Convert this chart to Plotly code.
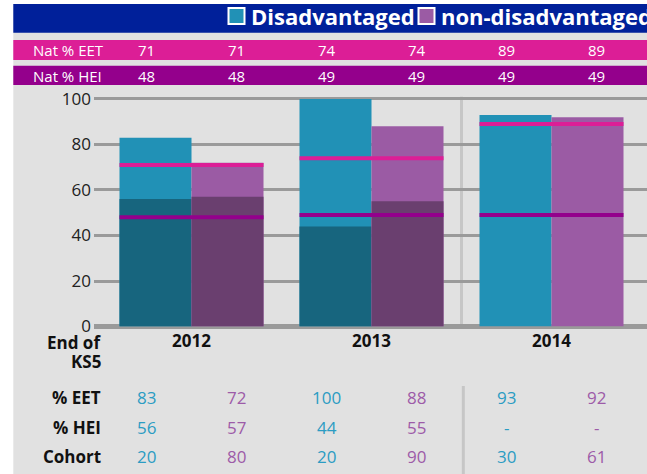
import plotly.graph_objects as go

# ---------------- data ----------------
years = ["2012", "2013", "2014"]
eet_dis = [83, 100, 93]
eet_non = [72, 88, 92]
hei_dis = [56, 44, None]
hei_non = [57, 55, None]
cohort_dis = [20, 20, 30]
cohort_non = [80, 90, 61]
nat_eet = [71, 74, 89]
nat_hei = [48, 49, 49]
series_names = ["Disadvantaged", "non-disadvantaged"]
y_ticks = [0, 20, 40, 60, 80, 100]

# ---------------- styles ----------------
W, H = 647, 474
C_DIS = "#2191b6"
C_DIS_D = "#17657e"
C_NON = "#9b5ba4"
C_NON_D = "#6a3f6f"
C_EET = "#dc1e96"
C_HEI = "#94008c"
C_BLUE = "#00209a"
C_BG = "#e1e1e1"
T_DIS = "#2b9cc3"
T_NON = "#9d5ba8"
FONT = "Open Sans"
BW = 0.4


def px(x):
    return x / W


def py(y):
    return 1 - y / H


xs = list(range(len(years)))

fig = go.Figure()
fig.add_trace(go.Bar(x=xs, y=eet_dis, offset=-BW, width=BW, marker=dict(color=C_DIS, line=dict(width=0)),
                     name=series_names[0], showlegend=False))
fig.add_trace(go.Bar(x=xs, y=hei_dis, offset=-BW, width=BW, marker=dict(color=C_DIS_D, line=dict(width=0)),
                     showlegend=False))
fig.add_trace(go.Bar(x=xs, y=eet_non, offset=0, width=BW, marker=dict(color=C_NON, line=dict(width=0)),
                     name=series_names[1], showlegend=False))
fig.add_trace(go.Bar(x=xs, y=hei_non, offset=0, width=BW, marker=dict(color=C_NON_D, line=dict(width=0)),
                     showlegend=False))


def hlines(vals):
    lx, ly = [], []
    for i, v in zip(xs, vals):
        lx += [i - BW, i + BW, None]
        ly += [v, v, None]
    return lx, ly


for vals, col in ((nat_eet, C_EET), (nat_hei, C_HEI)):
    lx, ly = hlines(vals)
    fig.add_trace(go.Scatter(x=lx, y=ly, mode="lines", line=dict(color=col, width=4),
                             showlegend=False, hoverinfo="skip"))

shapes = []
# backdrop
shapes.append(dict(type="rect", xref="paper", yref="paper", x0=px(13.3), x1=1, y0=0, y1=py(4),
                   fillcolor=C_BG, line=dict(width=0), layer="below"))
# header bands
shapes.append(dict(type="rect", xref="paper", yref="paper", x0=px(13.3), x1=1, y0=py(32.7), y1=py(4),
                   fillcolor=C_BLUE, line=dict(width=0), layer="below"))
shapes.append(dict(type="rect", xref="paper", yref="paper", x0=px(13.3), x1=1, y0=py(60), y1=py(40),
                   fillcolor=C_EET, line=dict(width=0), layer="below"))
shapes.append(dict(type="rect", xref="paper", yref="paper", x0=px(13.3), x1=1, y0=py(85), y1=py(65.7),
                   fillcolor=C_HEI, line=dict(width=0), layer="below"))
# legend squares
for x0, col in ((228.5, C_DIS), (418.5, C_NON)):
    shapes.append(dict(type="rect", xref="paper", yref="paper", x0=px(x0), x1=px(x0 + 16), y0=py(24), y1=py(8),
                       fillcolor=col, line=dict(color="white", width=2)))
# separator between 2013 and 2014
sep = (xs[1] + xs[2]) / 2
shapes.append(dict(type="line", xref="x", yref="y domain", x0=sep, x1=sep, y0=0, y1=1,
                   line=dict(color="#c6c6c6", width=3), layer="below"))
shapes.append(dict(type="line", xref="x", yref="paper", x0=sep + 0.01, x1=sep + 0.01, y0=0, y1=py(386),
                   line=dict(color="#c6c6c6", width=3)))

ann = []
# legend text
ann.append(dict(xref="paper", yref="paper", x=px(249), y=py(16), xanchor="left", yanchor="middle",
                text="<b>" + series_names[0] + "</b>", showarrow=False,
                font=dict(family=FONT, size=22, color="white")))
ann.append(dict(xref="paper", yref="paper", x=px(439), y=py(16), xanchor="left", yanchor="middle",
                text="<b>" + series_names[1] + "</b>", showarrow=False,
                font=dict(family=FONT, size=22, color="white")))
# national rows
for label, vals, yy in (("Nat % EET", nat_eet, 50), ("Nat % HEI", nat_hei, 75.5)):
    ann.append(dict(xref="paper", yref="paper", x=px(31), y=py(yy), xanchor="left", yanchor="middle",
                    text=label, showarrow=False, font=dict(family=FONT, size=15, color="white")))
    for i, v in zip(xs, vals):
        for dx in (-0.25, 0.25):
            ann.append(dict(xref="x", yref="paper", x=i + dx, y=py(yy), xanchor="center", yanchor="middle",
                            text=str(v), showarrow=False, font=dict(family=FONT, size=15, color="white")))
# table
for label, yy in (("End of", 342.5), ("KS5", 361), ("% EET", 397), ("% HEI", 427), ("Cohort", 456)):
    ann.append(dict(xref="paper", yref="paper", x=px(102.5), y=py(yy), xanchor="right", yanchor="middle",
                    text="<b>" + label + "</b>", showarrow=False, font=dict(family=FONT, size=17, color="#111")))


def fmt(v):
    return "-" if v is None else str(v)


for dvals, nvals, yy in ((eet_dis, eet_non, 397), (hei_dis, hei_non, 427), (cohort_dis, cohort_non, 456)):
    for i in xs:
        ann.append(dict(xref="x", yref="paper", x=i - 0.25, y=py(yy), xanchor="center", yanchor="middle",
                        text=fmt(dvals[i]), showarrow=False, font=dict(family=FONT, size=17, color=T_DIS)))
        ann.append(dict(xref="x", yref="paper", x=i + 0.25, y=py(yy), xanchor="center", yanchor="middle",
                        text=fmt(nvals[i]), showarrow=False, font=dict(family=FONT, size=17, color=T_NON)))

fig.update_layout(
    width=W, height=H, autosize=False,
    margin=dict(l=0, r=0, t=0, b=0, pad=0, autoexpand=False),
    paper_bgcolor="white", plot_bgcolor=C_BG,
    barmode="overlay", showlegend=False,
    shapes=shapes, annotations=ann,
    font=dict(family=FONT),
    xaxis=dict(domain=[px(94), 1], range=[(94 - 191.5) / 180, (647 - 191.5) / 180],
               tickvals=xs, ticktext=["<b>" + y + "</b>" for y in years],
               tickfont=dict(family=FONT, size=17, color="#111"),
               showgrid=False, zeroline=False, showline=False, ticks="", automargin=False,
               ticklabelstandoff=2),
    yaxis=dict(domain=[py(326.5), py(96.7)], range=[0, 101], tickvals=y_ticks,
               tickfont=dict(family=FONT, size=17, color="#222"),
               showgrid=True, gridcolor="#9a9a9a", gridwidth=2.5,
               zeroline=True, zerolinecolor="#9a9a9a", zerolinewidth=4.5,
               showline=False, ticks="", ticklabelstandoff=2, automargin=False),
)

fig.write_html("out.html", config={"responsive": False, "displayModeBar": False},
               post_script="document.body.style.margin='0px';document.body.style.overflow='hidden';")
